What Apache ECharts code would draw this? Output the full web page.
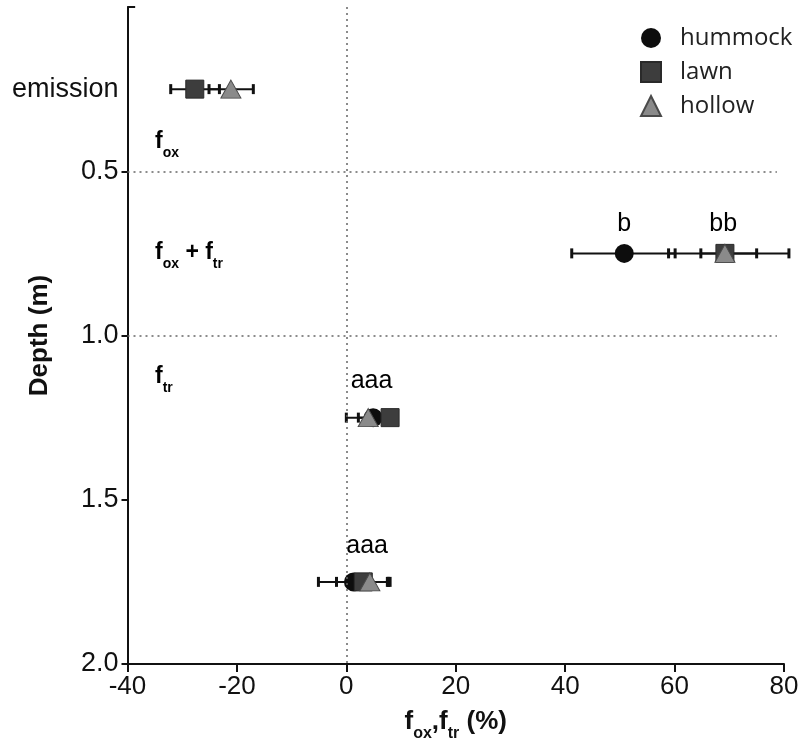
<!DOCTYPE html>
<html>
<head>
<meta charset="utf-8">
<script src="https://cdn.jsdelivr.net/npm/echarts@6/dist/echarts.min.js"></script>
<style>
  html, body { margin: 0; padding: 0; background: #fff; }
  #chart { width: 811px; height: 751px; }
</style>
</head>
<body>
<div id="chart"></div>
<script>
// depth rows (m); 0.25 is the "emission" row
var depths = [0.25, 0.75, 1.25, 1.75]

// f_ox / f_tr (%) means and error bar ends, per site type (null = no data)
var hummock = [null, 50.8, 4.9, 1.3]
var hummockLow = [null, 41.2, 2.2, -5.1]
var hummockHigh = [null, 60.1, 7.6, 7.7]

var lawn = [-27.7, 69.2, 8.0, 3.1]
var lawnLow = [-32.1, 58.9, 7.0, -1.8]
var lawnHigh = [-23.2, 80.9, 9.0, 8.0]

var hollow = [-21.1, 69.2, 4.0, 4.3]
var hollowLow = [-25.1, 64.8, 0.0, 1.1]
var hollowHigh = [-17.0, 75.0, 8.0, 7.5]

// significance letters
var letterText = ['b', 'bb', 'aaa', 'aaa']
var letterX = [50.8, 68.9, 4.6, 3.8]
var letterY = [0.66, 0.66, 1.14, 1.64]

var yTicks = [0.5, 1.0, 1.5, 2.0]
var dividers = [0.5, 1.0]

var chart = echarts.init(document.getElementById('chart'))

var pts = (vals) => depths.map((d, i) => vals[i] == null ? null : [vals[i], d]).filter(p => p)
var bars = (lo, hi) => depths.map((d, i) => lo[i] == null ? null : [d, lo[i], hi[i]]).filter(p => p)

var errRender = (params, api) => {
    var y = api.value(0)
    var a = api.coord([api.value(1), y])
    var b = api.coord([api.value(2), y])
    var h = 5
    return {
        type: 'group',
        children: [
            {type: 'line', shape: {x1: a[0], y1: a[1], x2: b[0], y2: b[1]}, style: {stroke: '#111', lineWidth: 2}},
            {type: 'line', shape: {x1: a[0], y1: a[1] - h, x2: a[0], y2: a[1] + h}, style: {stroke: '#111', lineWidth: 3}},
            {type: 'line', shape: {x1: b[0], y1: b[1] - h, x2: b[0], y2: b[1] + h}, style: {stroke: '#111', lineWidth: 3}}
        ]
    }
}

var font = "Arial, 'Liberation Sans', sans-serif"
var sub = {fontSize: 14, fontWeight: 'bold', fontFamily: font, verticalAlign: 'bottom', padding: [0, 0, -7, 0], color: '#111'}
var big = {fontSize: 23, fontWeight: 'bold', fontFamily: font, color: '#111'}

chart.setOption({
    animation: false,
    grid: {left: 127.5, right: 27, top: 7, bottom: 87, containLabel: false, outerBoundsMode: 'none'},
    legend: {
        orient: 'vertical',
        left: 640,
        top: 26,
        padding: 0,
        itemWidth: 20,
        itemHeight: 20,
        itemGap: 10,
        textStyle: {fontSize: 24, color: '#222', fontFamily: "'Open Sans', 'Noto Sans', sans-serif", padding: [0, 0, 0, 14]},
        data: [
            {name: 'hummock', icon: 'circle'},
            {name: 'lawn', icon: 'rect'},
            {name: 'hollow', icon: 'triangle'}
        ]
    },
    xAxis: {
        type: 'value',
        position: 'bottom',
        min: -40,
        max: 80,
        interval: 20,
        axisLine: {onZero: false, lineStyle: {color: '#111', width: 2}},
        axisTick: {show: true, length: 8, lineStyle: {color: '#111', width: 2}},
        axisLabel: {fontSize: 26, color: '#111', margin: 10, fontFamily: font},
        splitLine: {show: false},
        name: '{f|f}{s|ox}{f|,f}{s|tr}{f| (%)}',
        nameLocation: 'middle',
        nameGap: 45,
        nameMoveOverlap: false,
        nameTextStyle: {
            rich: {
                f: {fontSize: 26, fontWeight: 'bold', fontFamily: font, color: '#111'},
                s: {fontSize: 16, fontWeight: 'bold', fontFamily: font, color: '#111', verticalAlign: 'bottom', padding: [0, 0, -7, 0]}
            }
        }
    },
    yAxis: {
        type: 'value',
        position: 'left',
        inverse: true,
        min: 0,
        max: 2,
        interval: 0.5,
        axisLine: {onZero: false, lineStyle: {color: '#111', width: 2}},
        axisTick: {show: true, length: 6, customValues: yTicks, lineStyle: {color: '#111', width: 2}},
        axisLabel: {
            fontSize: 27,
            color: '#111',
            margin: 9,
            fontFamily: font,
            customValues: [0.25].concat(yTicks),
            formatter: (v) => v === 0.25 ? 'emission' : v.toFixed(1)
        },
        splitLine: {show: false},
        name: 'Depth (m)',
        nameLocation: 'middle',
        nameGap: 75,
        nameMoveOverlap: false,
        nameTextStyle: {fontSize: 26, fontWeight: 'bold', color: '#111', fontFamily: font}
    },
    graphic: [
        {type: 'text', left: 155, top: 130, style: {text: '{f|f}{s|ox}', rich: {f: big, s: sub}}},
        {type: 'text', left: 155, top: 241, style: {text: '{f|f}{s|ox}{f| + f}{s|tr}', rich: {f: big, s: sub}}},
        {type: 'text', left: 155, top: 365, style: {text: '{f|f}{s|tr}', rich: {f: big, s: sub}}}
    ],
    series: [
        {
            type: 'custom', name: 'hummockErr', renderItem: errRender, z: 1, silent: true,
            encode: {x: [1, 2], y: 0}, data: bars(hummockLow, hummockHigh),
            markLine: {
                silent: true,
                symbol: 'none',
                label: {show: false},
                lineStyle: {type: [2, 4], color: '#666', width: 1.5},
                data: [{xAxis: 0}]
                    .concat(dividers.map(d => [{coord: [-40, d]}, {coord: [78.7, d]}]))
                    .concat([[{coord: [-40, 0], lineStyle: {type: 'solid', color: '#111', width: 2}}, {coord: [-38.6, 0]}]])
            }
        },
        {type: 'custom', name: 'lawnErr', renderItem: errRender, z: 1, silent: true, encode: {x: [1, 2], y: 0}, data: bars(lawnLow, lawnHigh)},
        {type: 'custom', name: 'hollowErr', renderItem: errRender, z: 1, silent: true, encode: {x: [1, 2], y: 0}, data: bars(hollowLow, hollowHigh)},
        {
            type: 'scatter', name: 'hummock', symbol: 'circle', symbolSize: 19, z: 3,
            itemStyle: {color: '#0d0d0d', opacity: 1}, data: pts(hummock)
        },
        {
            type: 'scatter', name: 'lawn', symbol: 'rect', symbolSize: 18, z: 4,
            itemStyle: {color: '#3d3d3d', borderColor: '#2a2a2a', borderWidth: 1, opacity: 1}, data: pts(lawn)
        },
        {
            type: 'scatter', name: 'hollow', symbol: 'triangle', symbolSize: [20, 18], z: 5,
            itemStyle: {color: '#8a8a8a', borderColor: '#4a4a4a', borderWidth: 1, opacity: 1}, data: pts(hollow)
        },
        {
            type: 'scatter', name: 'letters', symbolSize: 0, z: 6, silent: true,
            itemStyle: {opacity: 1},
            data: letterText.map((t, i) => ({value: [letterX[i], letterY[i]], name: t})),
            label: {show: true, position: 'inside', formatter: (p) => p.name, fontSize: 25, color: '#000', opacity: 1, fontFamily: font}
        }
    ]
})
</script>
</body>
</html>
